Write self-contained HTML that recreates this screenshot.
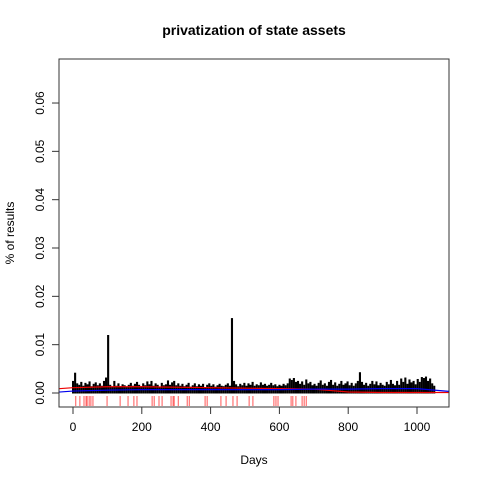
<!DOCTYPE html>
<html><head><meta charset="utf-8"><style>body{margin:0;background:#fff}svg{display:block;font-family:"Liberation Sans",sans-serif}</style></head>
<body>
<svg id="c" width="480" height="480">
<text x="254" y="35" text-anchor="middle" font-size="14" font-weight="bold">privatization of state assets</text>
<text x="254" y="464" text-anchor="middle" font-size="12">Days</text>
<text transform="translate(14,233) rotate(-90)" text-anchor="middle" font-size="12">% of results</text>
<g id="plot"></g>
<rect x="59" y="59" width="390" height="348" fill="none" stroke="#333"/>
</svg>
<script>
const xTicks=[0,200,400,600,800,1000];
const yTicks=[0,0.01,0.02,0.03,0.04,0.05,0.06];
const yTickLabels=["0.00","0.01","0.02","0.03","0.04","0.05","0.06"];
const dayStep=6;
const values=[2.5,4.2,2.0,1.7,2.3,1.5,2.1,1.8,2.4,1.4,1.9,2.2,1.6,2.0,1.5,2.5,3.2,12,1.7,1.3,2.5,1.5,2.0,1.4,1.8,1.6,1.3,1.7,2.1,1.5,1.9,2.3,1.7,1.4,2.0,1.6,2.4,1.8,2.5,1.5,2.0,1.7,1.3,2.1,1.6,1.8,2.6,1.7,2.2,2.5,1.6,2.0,1.5,1.9,1.4,1.7,2.1,1.3,1.6,2.0,1.4,1.8,1.5,1.9,1.2,1.7,2.0,1.5,1.8,1.3,1.6,1.9,1.5,1.4,1.7,2.0,1.5,15.5,2.5,1.8,1.4,1.9,1.6,2.1,1.5,2.0,1.7,2.3,1.5,1.8,1.6,2.2,1.7,1.9,1.5,1.7,2.1,1.6,1.8,1.4,1.7,1.5,1.9,1.6,2.0,3.0,2.7,3.1,2.3,2.5,1.9,2.4,1.7,2.8,2.0,2.3,1.6,1.9,1.5,2.1,2.6,1.7,2.0,1.5,2.3,2.7,1.7,2.2,1.5,1.9,2.5,1.7,2.0,2.4,1.6,2.1,1.5,2.0,2.5,4.3,2.3,1.7,2.1,1.5,1.9,2.5,1.8,2.4,1.6,2.1,1.7,1.5,2.3,1.8,2.7,1.9,1.6,2.5,1.7,3.0,2.3,3.2,1.9,2.8,2.2,2.5,1.8,2.9,2.3,3.3,3.1,3.4,2.5,3.0,2.0,1.5];
const rugDays=[8,20,32,38,41,47,52,58,99,137,160,177,186,230,236,250,259,285,291,294,306,332,338,384,390,430,445,465,477,512,523,584,590,596,634,639,648,666,672,678];
const redDays=[-60,0,100,200,300,400,500,600,700,750,800,900,1000,1100];
const redVals=[0.8,1.1,1.3,1.3,1.2,1.1,1.0,0.9,0.8,0.5,0.2,0.1,0.1,0.1];
const blueDays=[-60,0,100,200,300,400,500,600,700,800,900,1000,1050,1100];
const blueVals=[0.1,0.4,0.6,0.7,0.7,0.7,0.7,0.7,0.8,0.8,0.9,0.9,0.6,0.3];
const X=d=>73+d*0.344, Y=v=>393-v*4833;
const svg=document.getElementById('c'),g=document.getElementById('plot'),NS='http://www.w3.org/2000/svg';
function mk(t,a,p){const e=document.createElementNS(NS,t);for(const k in a)e.setAttribute(k,a[k]);(p||g).appendChild(e);return e;}
xTicks.forEach(t=>{const l=mk('line',{x1:X(t),x2:X(t),y1:407,y2:414,stroke:'#333'},svg);


const tx=mk('text',{x:X(t),y:431,'text-anchor':'middle','font-size':12},svg);tx.textContent=t;

});
yTicks.forEach((t,i)=>{const l=mk('line',{x1:52,x2:59,y1:Y(t),y2:Y(t),stroke:'#333'},svg);


const tx=mk('text',{transform:`translate(44,${Y(t)}) rotate(-90)`,'text-anchor':'middle','font-size':12},svg);tx.textContent=yTickLabels[i];

});
const cp=mk('clipPath',{id:'cp'},svg);mk('rect',{x:59,y:59,width:390,height:348},cp);
g.setAttribute('clip-path','url(#cp)');
rugDays.forEach(d=>{const l=mk('line',{x1:X(d),x2:X(d),y1:396,y2:406,stroke:'#ff5555','stroke-width':1});

});
values.forEach((v,i)=>{const d=i*dayStep;const r=mk('rect',{x:X(d)-1,y:Y(v/1000),width:2.1,height:Y(0)-Y(v/1000)+0.5,fill:'#000'});

});
function line(ds,vs,c,n){const p=mk('polyline',{points:ds.map((d,i)=>X(d)+','+Y(vs[i]/1000)).join(' '),fill:'none',stroke:c,'stroke-width':1.2,'stroke-linejoin':'round'});

}
line(redDays,redVals,'#e00','red-trend-line');
line(blueDays,blueVals,'#00e','blue-trend-line');
</script>
</body></html>
